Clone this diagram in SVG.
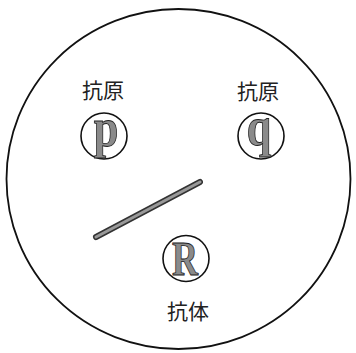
<svg xmlns="http://www.w3.org/2000/svg" width="356" height="353" viewBox="0 0 356 353">
<style>
.lbl{font-family:"Noto Sans CJK JP","Noto Sans CJK SC",serif;font-size:21px;fill:#222;text-anchor:middle}
.ring{fill:none;stroke:#111;stroke-width:1.6}
.let{font-family:"Liberation Serif",serif;font-weight:bold;fill:#8a8a8a;stroke:#222;stroke-width:0.9;text-anchor:middle}
</style>
<rect width="356" height="353" fill="#fff"/>
<g id="cell">
<ellipse cx="178.5" cy="179" rx="172" ry="170" fill="none" stroke="#111" stroke-width="1.8"/>
</g>
<g id="antigen-p">
<text class="lbl" x="103" y="98">抗原</text>
<circle class="ring" cx="104" cy="136" r="23"/>
<text class="let" transform="translate(106,146) scale(0.82,1)" font-size="54">p</text>
</g>
<g id="antigen-q">
<text class="lbl" x="258" y="99">抗原</text>
<circle class="ring" cx="261" cy="136" r="23"/>
<text class="let" transform="translate(259,145) scale(0.82,1)" font-size="54">q</text>
</g>
<g id="antibody-R">
<circle class="ring" cx="186" cy="258.5" r="23"/>
<text class="let" transform="translate(185,275) scale(0.75,1)" font-size="48">R</text>
<text class="lbl" x="188" y="319">抗体</text>
</g>
<g id="connectors">
<line x1="96" y1="237" x2="200" y2="182" stroke="#333" stroke-width="6" stroke-linecap="round"/>
<line x1="96" y1="237" x2="200" y2="182" stroke="#999" stroke-width="3" stroke-linecap="round"/>
</g>
</svg>
